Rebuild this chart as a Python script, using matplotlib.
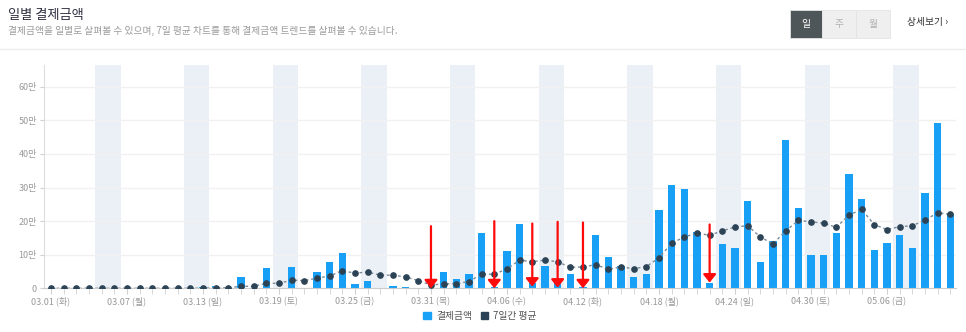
import matplotlib
matplotlib.use('Agg')
import matplotlib.pyplot as plt
from matplotlib.patches import Rectangle, Patch
from matplotlib.lines import Line2D
import numpy as np
import pandas as pd

plt.rcParams['font.family'] = ['Noto Sans CJK KR', 'DejaVu Sans']

# daily payment amounts (won), 2022-03-01 .. 2022-05-11
dates = pd.date_range('2022-03-01', '2022-05-11')
amount = [
    0, 0, 0, 0, 0, 0, 0, 0, 0, 0,
    0, 0, 3000, 7000, 0, 33000, 0, 60500, 0, 63500,
    0, 49500, 78000, 105000, 13000, 23000, 0, 7000, 4000, 1000,
    2000, 49500, 28000, 42000, 164000, 5000, 111000, 190500, 15000, 66000,
    17000, 44000, 3000, 158000, 92000, 66000, 33000, 42000, 232000, 307500,
    295000, 167000, 17000, 131000, 119000, 261000, 78000, 141000, 442000, 238000,
    99000, 98000, 165000, 340000, 265000, 114000, 136000, 158000, 119000, 285000,
    493000, 221000,
]
avg7 = [
    0, 0, 0, 0, 0, 0, 0, 0, 0, 0,
    0, 0, 500, 1500, 1500, 6000, 6000, 15000, 15000, 24000,
    23000, 30000, 37000, 52500, 45000, 48500, 39000, 39000, 34000, 23000,
    10000, 13000, 14000, 20000, 42000, 42000, 57500, 84000, 79000, 84000,
    79000, 62500, 63500, 70500, 56500, 63500, 58500, 64500, 91000, 134000,
    153000, 164000, 158000, 171000, 182500, 186500, 153000, 132000, 171000, 202000,
    198000, 194000, 181500, 218000, 235000, 189500, 175000, 183500, 186500, 203000,
    225000, 220000,
]

tick_days = [0, 6, 12, 18, 24, 30, 36, 42, 48, 54, 60, 66]
tick_labels = ['03.01 (화)', '03.07 (월)', '03.13 (일)', '03.19 (토)', '03.25 (금)',
               '03.31 (목)', '04.06 (수)', '04.12 (화)', '04.18 (월)', '04.24 (일)',
               '04.30 (토)', '05.06 (금)']
y_ticks = [0, 100000, 200000, 300000, 400000, 500000, 600000]

# red markers pointing at the low days
marked_days = [30, 35, 38, 40, 42, 52]
marked_top = [185000, 200000, 193000, 198000, 196000, 190000]
marked_tip = [0, 0, 5000, 2000, 0, 17000]

BLUE = '#17a0f6'
NAVY = '#2c4356'
W, H = 966, 332

fig = plt.figure(figsize=(W / 100, H / 100), dpi=100)


def fx(px):
    return px / W


def fy(py):
    return 1 - py / H


# header
fig.text(fx(8), fy(15), '일별 결제금액', fontsize=9.5, color='#2f2f42', va='center')
fig.text(fx(8), fy(31), '결제금액을 일별로 살펴볼 수 있으며, 7일 평균 차트를 통해 결제금액 트렌드를 살펴볼 수 있습니다.',
         fontsize=7, color='#9a9a9a', va='center')
fig.add_artist(Line2D([0, 1], [fy(49), fy(49)], color='#ececec', lw=1))

buttons = [('일', 790, 822, '#4f5659', 'white'),
           ('주', 822, 856, '#efefef', '#b0b0b0'),
           ('월', 856, 890, '#efefef', '#b0b0b0')]
for label, x0, x1, bg, fg in buttons:
    fig.add_artist(Rectangle((fx(x0), fy(38)), fx(x1) - fx(x0), fy(10) - fy(38),
                             transform=fig.transFigure, facecolor=bg,
                             edgecolor='#e4e4e4', lw=0.6))
    fig.text(fx((x0 + x1) / 2), fy(24), label, fontsize=7, color=fg,
             ha='center', va='center')
fig.text(fx(907), fy(22), '상세보기 ›', fontsize=7, color='#333333', va='center')

# chart
ax = fig.add_axes([fx(44), fy(288.3), fx(956) - fx(44), fy(65) - fy(288.3)])
x = np.arange(len(dates))

for i, d in enumerate(dates):
    if d.weekday() == 5:
        ax.axvspan(i - 0.5, i + 1.5, color='#ebf0f6', lw=0, zorder=0)

ax.bar(x, amount, width=0.58, color=BLUE, zorder=2)
ax.plot(x, avg7, ls=(0, (2, 2)), lw=1, color='#7c8b99', zorder=3)
ax.plot(x, avg7, 'o', ms=3.8, color=NAVY, zorder=4)

for d, top, tip in zip(marked_days, marked_top, marked_tip):
    ax.annotate('', xy=(d, tip), xytext=(d, top), annotation_clip=False, zorder=5,
                arrowprops=dict(arrowstyle='-|>,head_length=0.3,head_width=0.24',
                                color='#ff0a0a', lw=1.6, mutation_scale=16,
                                shrinkA=0, shrinkB=0))

ax.set_xlim(-0.55, 71.45)
ax.set_ylim(0, 665000)
ax.set_xticks(tick_days, tick_labels)
ax.set_xticks(x, minor=True)
ax.set_yticks(y_ticks, ['0' if v == 0 else f'{v // 10000}만' for v in y_ticks])
ax.tick_params(axis='x', which='both', length=4, color='#d0d0d0', labelsize=6.5,
               labelcolor='#999999', pad=2)
ax.tick_params(axis='y', length=3, color='#d0d0d0', labelsize=6.5,
               labelcolor='#999999', pad=2)
ax.yaxis.grid(True, color='#f1f1f1', lw=1)
ax.set_axisbelow(True)
for side in ('top', 'right'):
    ax.spines[side].set_visible(False)
ax.spines['left'].set_color('#dddddd')
ax.spines['bottom'].set_color('#cccccc')

handles = [Patch(color=BLUE), Patch(color=NAVY)]
fig.legend(handles, ['결제금액', '7일간 평균'], loc='center',
           bbox_to_anchor=(fx(480), fy(316)), ncol=2, frameon=False, fontsize=7,
           handlelength=0.8, handleheight=0.8, handletextpad=0.5,
           columnspacing=0.9, labelcolor='#555555')

fig.savefig('out.png', dpi=100)
